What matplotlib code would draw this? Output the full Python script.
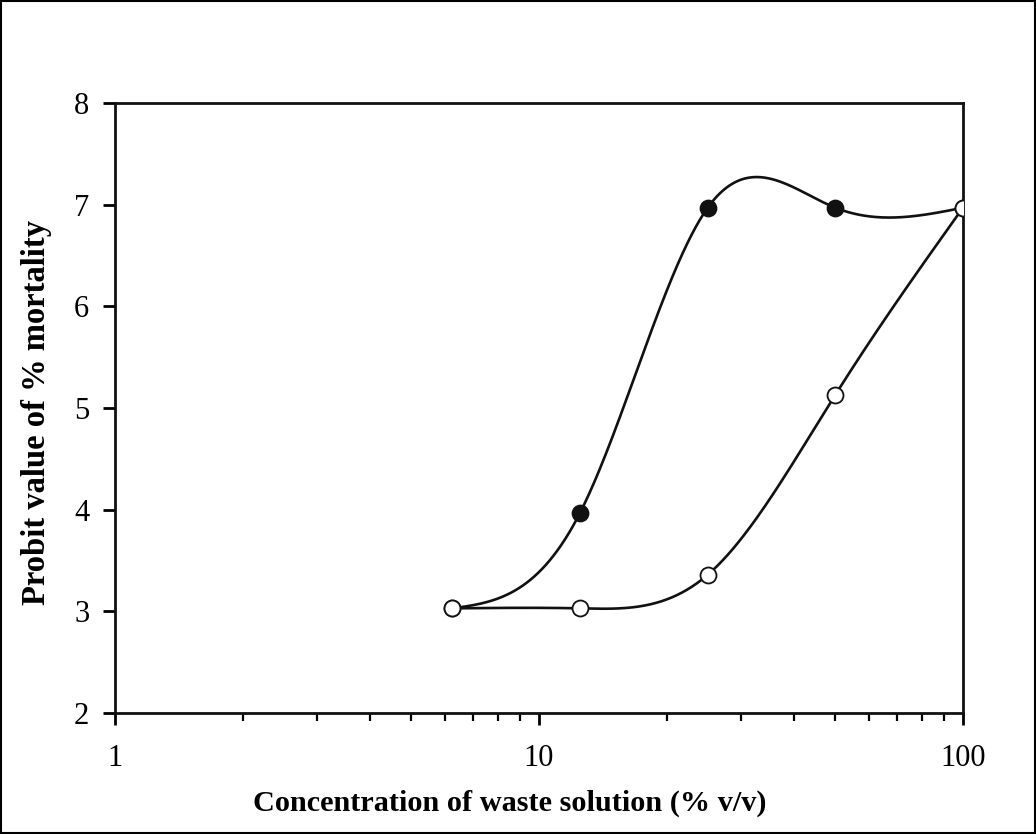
import numpy as np
import matplotlib.pyplot as plt
from matplotlib.patches import Rectangle
from matplotlib.ticker import LogLocator, NullFormatter, FixedLocator

# data
conc = [6.25, 12.5, 25, 50, 100]
probit_filled = [3.03, 3.97, 6.97, 6.97, 6.97]
probit_open = [3.03, 3.03, 3.36, 5.13, 6.97]


def natural_spline(x, y, xs):
    # natural cubic spline through (x, y), evaluated at xs
    x = np.asarray(x, float)
    y = np.asarray(y, float)
    n = len(x)
    h = np.diff(x)
    A = np.zeros((n, n))
    b = np.zeros(n)
    A[0, 0] = 1
    A[-1, -1] = 1
    for i in range(1, n - 1):
        A[i, i - 1] = h[i - 1]
        A[i, i] = 2 * (h[i - 1] + h[i])
        A[i, i + 1] = h[i]
        b[i] = 3 * ((y[i + 1] - y[i]) / h[i] - (y[i] - y[i - 1]) / h[i - 1])
    c = np.linalg.solve(A, b)
    out = np.zeros_like(xs)
    for k, xv in enumerate(xs):
        i = min(max(np.searchsorted(x, xv) - 1, 0), n - 2)
        dx = xv - x[i]
        bi = (y[i + 1] - y[i]) / h[i] - h[i] * (2 * c[i] + c[i + 1]) / 3
        di = (c[i + 1] - c[i]) / (3 * h[i])
        out[k] = y[i] + bi * dx + c[i] * dx ** 2 + di * dx ** 3
    return out


plt.rcParams['font.family'] = ['Liberation Serif', 'DejaVu Serif']

fig = plt.figure(figsize=(10.36, 8.34), dpi=100)
ax = fig.add_axes([0.111, 0.145, 0.8185, 0.7315])

lx = np.log10(conc)
xs = np.linspace(lx[0], lx[-1], 400)
ax.plot(10 ** xs, natural_spline(lx, probit_filled, xs), color="#111111", lw=1.9, zorder=2)
ax.plot(10 ** xs, natural_spline(lx, probit_open, xs), color="#111111", lw=1.9, zorder=2)
ax.plot(conc, probit_filled, "o", ms=11.5, mfc="#111111", mec="#111111", mew=1.3, zorder=3)
ax.plot(conc, probit_open, "o", ms=11.5, mfc="white", mec="#111111", mew=1.3, zorder=4)

ax.set_xscale("log")
ax.set_xlim(1, 100)
ax.set_ylim(2, 8)
ax.xaxis.set_major_locator(FixedLocator([1, 10, 100]))
ax.set_xticklabels(["1", "10", "100"])
ax.xaxis.set_minor_locator(LogLocator(base=10, subs=np.arange(2, 10)))
ax.xaxis.set_minor_formatter(NullFormatter())
ax.set_yticks(range(2, 9))

for s in ax.spines.values():
    s.set_linewidth(2.0)
    s.set_color("#111111")
ax.tick_params(which="major", direction="out", length=8.5, width=2.0, labelsize=22)
ax.tick_params(axis="x", which="major", pad=14)
ax.tick_params(axis="y", which="major", pad=10)
ax.tick_params(which="minor", direction="out", length=5.5, width=1.6)

ax.set_xlabel("Concentration of waste solution (% v/v)", fontsize=21.8, fontweight="bold")
ax.xaxis.set_label_coords(0.465, -0.125)
ax.set_ylabel("Probit value of % mortality", fontsize=23.5, fontweight="bold")
ax.yaxis.set_label_coords(-0.074, 0.493)

fig.add_artist(Rectangle((0.001, 0.001), 0.998, 0.998, transform=fig.transFigure,
                         fill=False, lw=1.5, edgecolor="black"))

fig.savefig("out.png", dpi=100)
